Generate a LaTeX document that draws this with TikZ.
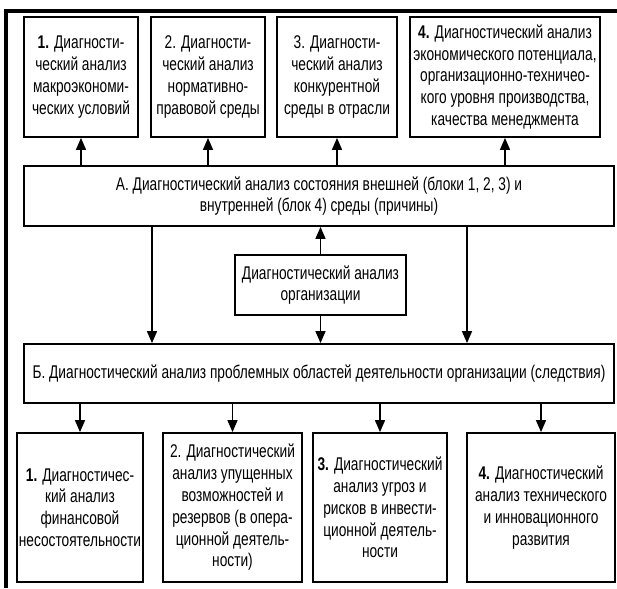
\documentclass[tikz,border=0pt]{standalone}
\usepackage{fontspec}
\setmainfont{Liberation Sans}[FakeStretch=0.745]
\usetikzlibrary{shapes,arrows.meta,positioning,calc}

\begin{document}
\begin{tikzpicture}[x=1pt,y=-1pt,font=\fontsize{18.4}{21.8}\selectfont]
\tikzstyle{block} = [rectangle, draw, line width=1.8pt, align=center, inner sep=0pt, fill=white]
\tikzstyle{pointer} = [draw, line width=1.4pt, -{Triangle[length=12pt,width=10pt]}]
\tikzstyle{frame} = [line width=3.5pt]

\useasboundingbox (0,0) rectangle (617,588);

% Outer frame, only its left and top sides are shown
\draw [frame] (617,11) -- (6,11) -- (6,588);

% Upper row: external and internal environment
\node [block, minimum width=114pt, minimum height=120pt] (macro) at (81,77) {\textbf{1.} Диагности-\\ческий анализ\\макроэкономи-\\ческих условий};
\node [block, minimum width=114pt, minimum height=120pt] (legal) at (208,77) {2. Диагности-\\ческий анализ\\нормативно-\\правовой среды};
\node [block, minimum width=120pt, minimum height=120pt] (rivals) at (337,77) {3. Диагности-\\ческий анализ\\конкурентной\\среды в отрасли};
\node [block, minimum width=190pt, minimum height=120pt] (potential) at (505,77) {\textbf{4.} Диагностический анализ\\экономического потенциала,\\организационно-техничео-\\кого уровня производства,\\качества менеджмента};

% Block A (causes)
\node [block, minimum width=590pt, minimum height=60pt] (causes) at (319,196) {А. Диагностический анализ состояния внешней (блоки 1, 2, 3) и\\внутренней (блок 4) среды (причины)};

% Diagnostic analysis of the organization
\node [block, minimum width=171pt, minimum height=60pt] (org) at (320.5,285) {Диагностический анализ\\организации};

% Block B (consequences)
\node [block, minimum width=590pt, minimum height=59pt] (effects) at (319,373.5) {Б. Диагностический анализ проблемных областей деятельности организации (следствия)};

% Lower row: problem areas
\node [block, minimum width=126pt, minimum height=149pt] (finance) at (80,507.5) {\textbf{1.} Диагностичес-\\кий анализ\\финансовой\\несостоятельности};
\node [block, minimum width=139pt, minimum height=149pt] (reserves) at (232.5,507.5) {2. Диагностический\\анализ упущенных\\возможностей и\\резервов (в опера-\\ционной деятель-\\ности)};
\node [block, minimum width=134pt, minimum height=149pt] (risks) at (380,507.5) {\textbf{3.} Диагностический\\анализ угроз и\\рисков в инвести-\\ционной деятель-\\ности};
\node [block, minimum width=148pt, minimum height=149pt] (innov) at (541,507.5) {\textbf{4.} Диагностический\\анализ технического\\и инновационного\\развития};

% Arrows from A up to the upper row
\foreach \b in {macro,legal,rivals,potential}
  \draw [pointer] (\b.south |- causes.north) -- (\b.south);

% Arrows from A down to B
\draw [pointer] ([xshift=-167pt]causes.south) -- ([xshift=-167pt]effects.north);
\draw [pointer] ([xshift=148pt]causes.south) -- ([xshift=148pt]effects.north);

% Organization to A and B
\draw [pointer] (org.north) -- (org.north |- causes.south);
\draw [pointer] (org.south) -- (org.south |- effects.north);

% Arrows from B down to the lower row
\foreach \b in {finance,reserves,risks,innov}
  \draw [pointer] (\b.north |- effects.south) -- (\b.north);

\end{tikzpicture}
\end{document}
